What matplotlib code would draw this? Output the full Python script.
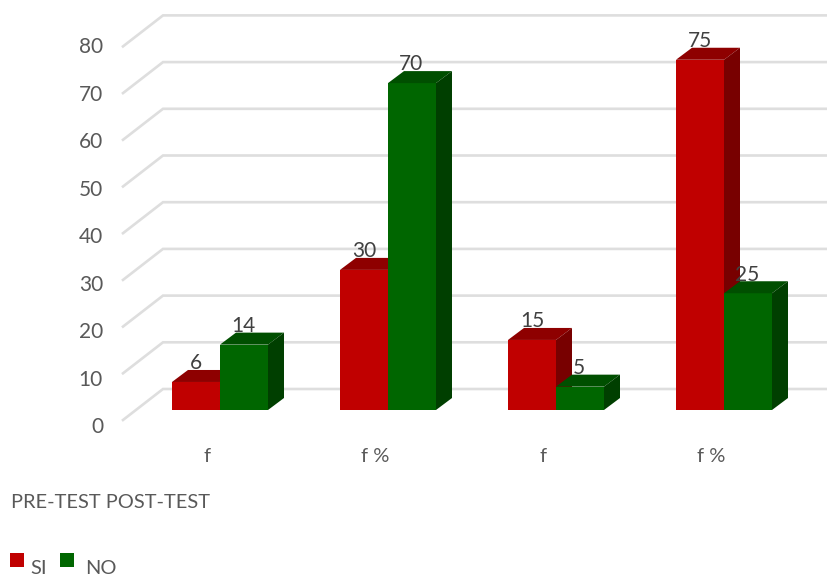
import matplotlib
matplotlib.use("Agg")
import matplotlib.pyplot as plt
from matplotlib.patches import Polygon, Rectangle

plt.rcParams['font.family'] = ['Lato', 'DejaVu Sans']

# valori del grafico
categorie = ["f", "f %", "f", "f %"]
si = [6, 30, 15, 75]
no = [14, 70, 5, 25]
tacche = [0, 10, 20, 30, 40, 50, 60, 70, 80]
gruppi = "PRE-TEST POST-TEST"

GRIGIO = "#595959"
LINEA = "#DEDEDE"
W, H = 827, 575
PX_X = 168.0     # pixel per categoria
PX_Y = 4.67      # pixel per unita
X0, Y0 = 220, 410

fig = plt.figure(figsize=(W / 100, H / 100), dpi=100)
ax = fig.add_axes([0, 0, 1, 1])
ax.set_xlim(-X0 / PX_X, (W - X0) / PX_X)
ax.set_ylim((Y0 - H) / PX_Y, Y0 / PX_Y)
ax.axis("off")

larg = 48 / PX_X
dx = 16 / PX_X   # profondita della barra
dy = 12 / PX_Y


def barra3d(x, v, col, top, lato, z):
    ax.bar(x, v, width=larg, color=col, zorder=z, linewidth=0)
    sx = x - larg / 2
    dx_ = x + larg / 2
    ax.add_patch(Polygon([(sx, v), (sx + dx, v + dy), (dx_ + dx, v + dy), (dx_, v)],
                         closed=True, fc=top, ec="none", zorder=z))
    ax.add_patch(Polygon([(dx_, 0), (dx_ + dx, dy), (dx_ + dx, v + dy), (dx_, v)],
                         closed=True, fc=lato, ec="none", zorder=z))


# griglia: parete di fondo e pavimento obliquo
xf, xb = (123 - X0) / PX_X, (163 - X0) / PX_X
yf, yb = (Y0 - 420) / PX_Y, (Y0 - 389) / PX_Y
for t in tacche:
    ax.plot([xf, xb, (W - X0) / PX_X], [t + yf, t + yb, t + yb],
            color=LINEA, lw=1.9, zorder=1, solid_joinstyle="miter")
    ax.text((103 - X0) / PX_X, t + (Y0 - 427) / PX_Y + t * 0.016, str(t), ha="right", va="center",
            fontsize=15, color=GRIGIO)

for i in range(len(categorie)):
    x1 = i - larg / 2
    x2 = i + larg / 2
    barra3d(x1, si[i], "#C00000", "#8E0000", "#780000", 3 + i)
    barra3d(x2, no[i], "#006600", "#004F00", "#003F00", 3.5 + i)
    ax.text(x1, si[i] + 4.0, str(si[i]), ha="center", va="center",
            fontsize=15, color="#404040", zorder=10)
    ax.text(x2 - 1 / PX_X, no[i] + 4.0, str(no[i]), ha="center", va="center",
            fontsize=15, color="#404040", zorder=10)
    ax.text(i - 13 / PX_X, (Y0 - 456) / PX_Y, categorie[i], ha="center", va="center",
            fontsize=14.5, color=GRIGIO)

ax.text((11 - X0) / PX_X, (Y0 - 503) / PX_Y, gruppi, ha="left", va="center",
        fontsize=14.4, color=GRIGIO)

# legenda in basso a sinistra
ax.add_patch(Rectangle(((10 - X0) / PX_X, (Y0 - 567) / PX_Y), 14 / PX_X, 14 / PX_Y,
                       fc="#C00000", ec="none"))
ax.add_patch(Rectangle(((60 - X0) / PX_X, (Y0 - 567) / PX_Y), 14 / PX_X, 14 / PX_Y,
                       fc="#006600", ec="none"))
ax.text((30 - X0) / PX_X, (Y0 - 568) / PX_Y, "SI", ha="left", va="center",
        fontsize=14.4, color=GRIGIO)
ax.text((85 - X0) / PX_X, (Y0 - 568) / PX_Y, "NO", ha="left", va="center",
        fontsize=14.4, color=GRIGIO)

fig.savefig("out.png", dpi=100)
